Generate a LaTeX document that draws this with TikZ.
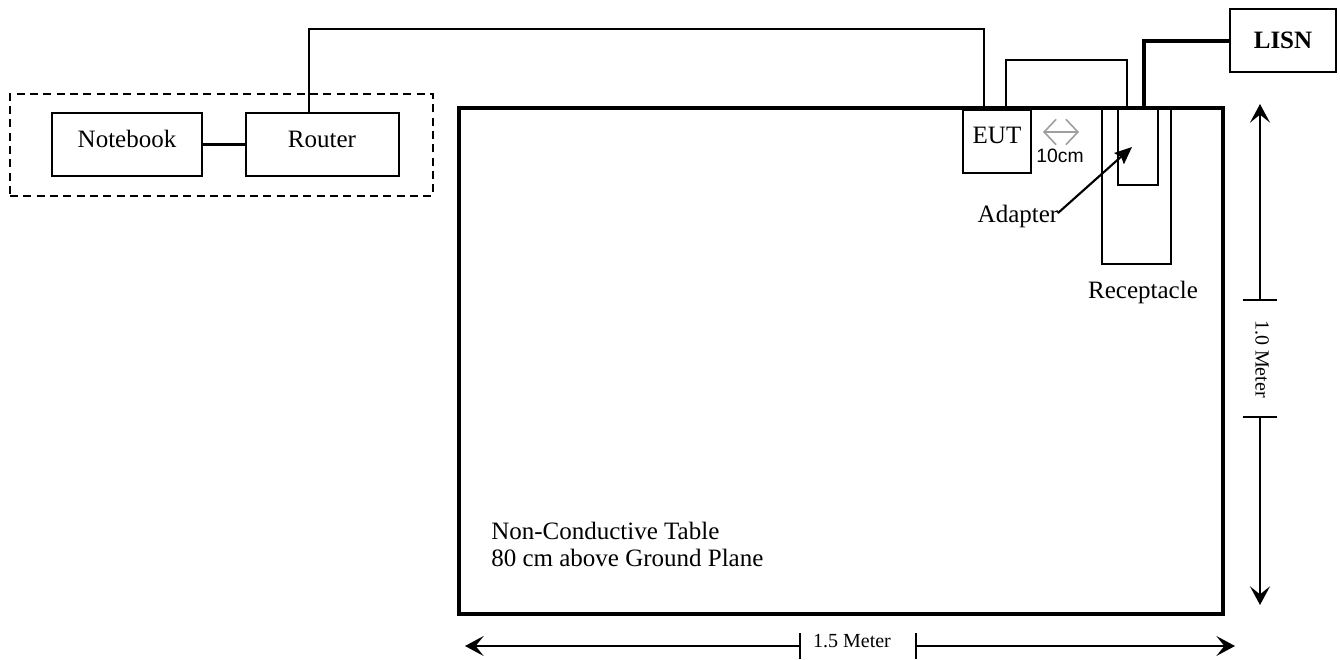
\documentclass[tikz,border=0pt]{standalone}
\usepackage{fontspec}
\setmainfont{Liberation Serif}
\newfontfamily\arialf{Liberation Sans}
\usetikzlibrary{arrows.meta,fit}
\tikzset{dimtip/.tip={Stealth[length=14pt,width=15pt,inset=6pt]}}
\begin{document}
\begin{tikzpicture}[x=0.75pt,y=-0.75pt,
  box/.style={draw,line width=1.6pt,inner sep=0pt},
  tablebox/.style={draw,line width=2.6pt,inner sep=0pt},
  wire/.style={line width=1.6pt},
  thickwire/.style={line width=2.6pt},
  lbl/.style={font=\fontsize{18.75}{22}\selectfont,anchor=base,inner sep=0pt},
  small/.style={font=\fontsize{15}{17}\selectfont,inner sep=0pt},
  dim/.style={line width=1.3pt},
]
\useasboundingbox (0,0) rectangle (1340,660);
% dashed group
\node[draw,dashed,dash pattern=on 6pt off 4pt,line width=1.6pt,inner sep=0pt,fit={(10,94) (433,196)}] (grp) {};
\node[box,fit={(52,113) (202,176)}] (notebook) {};
\node[lbl] (nbtext) at (127,147) {Notebook};
\node[box,fit={(246,113) (399,176)}] (router) {};
\node[lbl] (rttext) at (322,147) {Router};
\draw[wire] (notebook.east) -- (router.west);
% table
\node[tablebox,fit={(459,108) (1223,614)}] (table) {};
\node[lbl,anchor=base west] (tbl1) at (491,539) {Non-Conductive Table};
\node[lbl,anchor=base west] (tbl2) at (491,566) {80 cm above Ground Plane};
% EUT
\node[box,fit={(963,110) (1031,173)}] (eut) {};
\node[lbl] (euttext) at (997,143) {EUT};
% receptacle and adapter
\node[box,fit={(1102,108) (1171,264)}] (recept) {};
\node[box,fit={(1118,108) (1158,185)}] (adapter) {};
\node[lbl] (recepttext) at (1143,298) {Receptacle};
\node[lbl] (adaptertext) at (1018,222) {Adapter};
\coordinate (adtail) at (1058,213);
\coordinate (adtip) at (1132,147);
\draw[line width=1.6pt,-{Stealth[length=13pt,width=11pt,inset=2pt]}] (adtail) -- (adtip);
% LISN
\node[box,fit={(1230,9) (1336,72)}] (lisn) {};
\node[lbl,font=\fontsize{18.75}{22}\selectfont\bfseries] (lisntext) at (1283,49) {LISN};
% wires
\draw[wire] (router.north -| 309,0) -- (309,29) -- (984,29) -- (eut.north -| 984,0);
\draw[wire] (eut.north -| 1006,0) -- (1006,60) -- (1127,60) -- (adapter.north -| 1127,0);
\draw[thickwire] (adapter.north -| 1144,0) -- (1144,41) -- (lisn.west |- 0,41);
% 10cm gap arrow
\coordinate (ga) at (1043,132);
\coordinate (gb) at (1079,132);
\draw[gray!75,line width=1.2pt,{Straight Barb[length=9pt,width=19pt]}-{Straight Barb[length=9pt,width=19pt]}] (ga) -- (gb);
\node[font=\arialf\fontsize{14.5}{16}\selectfont,anchor=base,inner sep=0pt] (gaptext) at (1060,162) {10cm};
% vertical dimension
\coordinate (vtop) at (1260,104);
\coordinate (vt1) at (1260,300);
\coordinate (vt2) at (1260,417);
\coordinate (vbot) at (1260,605);
\draw[dim,-{dimtip}] (vt1) -- (vtop);
\draw[dim,-{dimtip}] (vt2) -- (vbot);
\draw[dim] ([xshift=-13]vt1) -- ([xshift=13]vt1);
\draw[dim] ([xshift=-13]vt2) -- ([xshift=13]vt2);
\node[small,rotate=-90] (vtext) at (1262,359) {1.0 Meter};
% horizontal dimension
\coordinate (hl) at (465,646);
\coordinate (ht1) at (800,646);
\coordinate (ht2) at (916,646);
\coordinate (hr) at (1235,646);
\draw[dim,-{dimtip}] (ht1) -- (hl);
\draw[dim,-{dimtip}] (ht2) -- (hr);
\draw[dim] ([yshift=-10]ht1) -- ([yshift=10]ht1);
\draw[dim] ([yshift=-10]ht2) -- ([yshift=10]ht2);
\node[small] (htext) at (852,641) {1.5 Meter};
\end{tikzpicture}
\end{document}
